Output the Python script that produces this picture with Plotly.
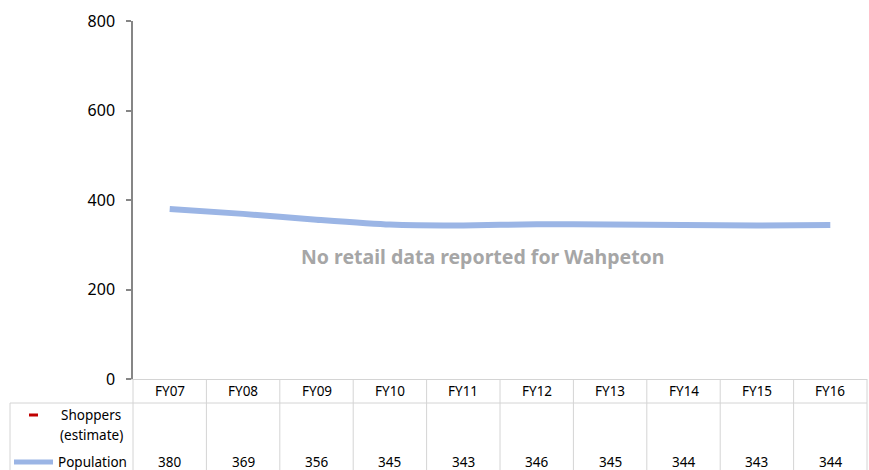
import plotly.graph_objects as go

years = ["FY07", "FY08", "FY09", "FY10", "FY11", "FY12", "FY13", "FY14", "FY15", "FY16"]
population = [380, 369, 356, 345, 343, 346, 345, 344, 343, 344]
shoppers = [None] * len(years)
y_ticks = [0, 200, 400, 600, 800]

W, H = 869, 470
L, R, T, B = 133, 2, 21, 91
plot_h = H - T - B
plot_w = W - L - R

def py(pix):
    # pixel row -> paper y
    return (H - B - pix) / plot_h

def px_(pix):
    return (pix - L) / plot_w

FONT = "Noto Sans"
GRID = "#D4D4D4"
n = len(years)

fig = go.Figure()
fig.add_trace(go.Scatter(
    x=list(range(n)), y=population, mode="lines", name="Population",
    line=dict(color="#9BB5E5", width=6, shape="spline", smoothing=0.6),
    hoverinfo="skip",
))

shapes = []
# table grid
shapes.append(dict(type="line", xref="paper", yref="paper", x0=px_(10), x1=1,
                   y0=py(403), y1=py(403), line=dict(color=GRID, width=1)))
shapes.append(dict(type="line", xref="paper", yref="paper", x0=px_(10), x1=px_(10),
                   y0=py(403), y1=py(H), line=dict(color=GRID, width=1)))
for i in range(n + 1):
    shapes.append(dict(type="line", xref="paper", yref="paper", x0=i / n, x1=i / n,
                       y0=0, y1=py(H), line=dict(color=GRID, width=1)))
# legend keys
shapes.append(dict(type="line", xref="paper", yref="paper", x0=px_(29), x1=px_(38),
                   y0=py(415), y1=py(415), line=dict(color="#C00000", width=3)))
shapes.append(dict(type="line", xref="paper", yref="paper", x0=px_(14), x1=px_(53),
                   y0=py(462), y1=py(462), line=dict(color="#9BB5E5", width=5)))

ann = []
for i, (yr, p, s) in enumerate(zip(years, population, shoppers)):
    xc = (i + 0.5) / n
    ann.append(dict(x=xc, y=py(391), text=yr))
    if s is not None:
        ann.append(dict(x=xc, y=py(425), text=str(s)))
    ann.append(dict(x=xc, y=py(462), text=str(p)))
ann.append(dict(x=px_(91), y=py(415), text="Shoppers"))
ann.append(dict(x=px_(91), y=py(435), text="(estimate)"))
ann.append(dict(x=px_(92), y=py(462), text="Population"))
for a in ann:
    a.update(xref="paper", yref="paper", showarrow=False,
             font=dict(family=FONT, size=13.5, color="#000000"),
             xanchor="center", yanchor="middle")
ann.append(dict(x=px_(482), y=py(256), xref="paper", yref="paper", showarrow=False,
                text="<b>No retail data reported for Wahpeton</b>",
                font=dict(family=FONT, size=19.5, color="#A6A6A6"),
                xanchor="center", yanchor="middle"))

fig.update_layout(
    width=W, height=H,
    margin=dict(l=L, r=R, t=T, b=B),
    paper_bgcolor="white", plot_bgcolor="white",
    showlegend=False,
    shapes=shapes, annotations=ann,
    xaxis=dict(range=[-0.5, n - 0.5], showgrid=False, zeroline=False,
               showticklabels=False, showline=True, linecolor=GRID, linewidth=1,
               fixedrange=True),
    yaxis=dict(range=[0, 800], tickvals=y_ticks, showgrid=False, zeroline=False,
               showline=True, linecolor="#868686", linewidth=1.5,
               ticks="outside", ticklen=5, tickcolor="#868686", tickwidth=1.5,
               ticklabelstandoff=8,
               tickfont=dict(family=FONT, size=16, color="#000000"),
               fixedrange=True),
)

# drop the default page margin so the figure sits at the window's corner
fig.write_html("out.html", config={"displayModeBar": False},
               post_script="document.body.style.margin='0';")
